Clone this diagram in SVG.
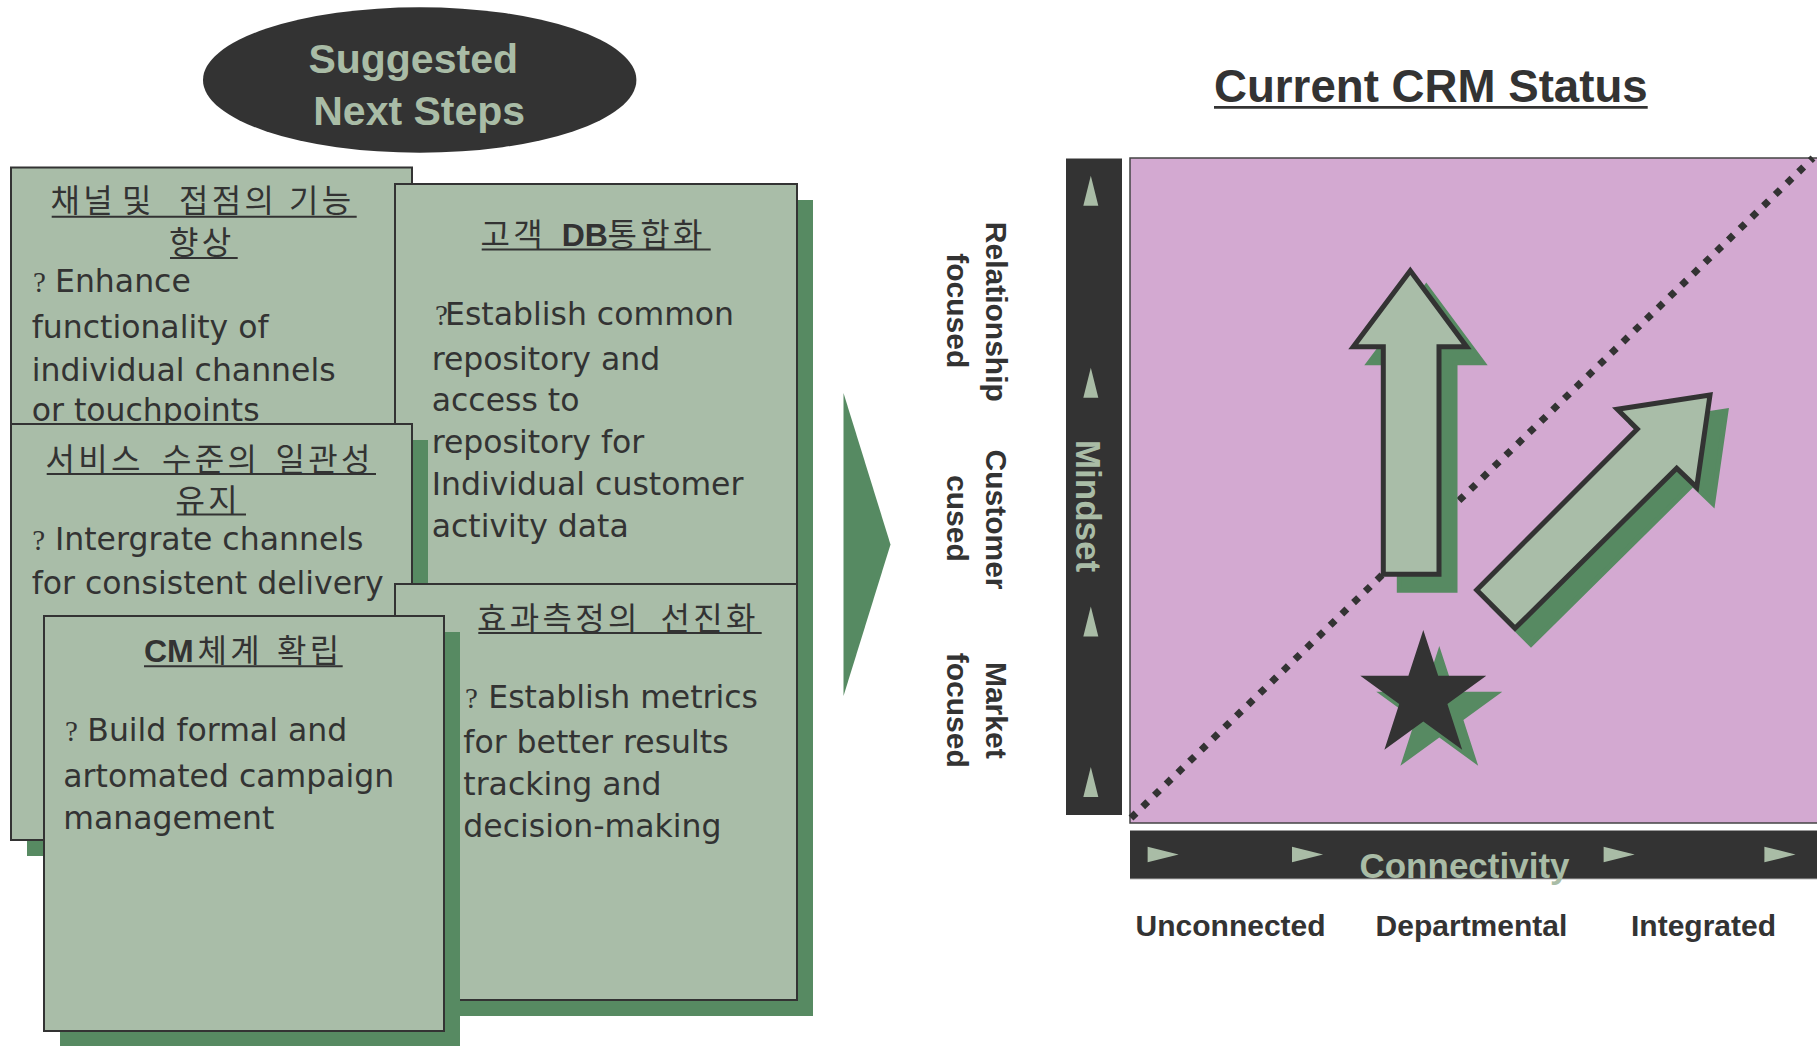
<svg xmlns="http://www.w3.org/2000/svg" width="1817" height="1046" viewBox="0 0 1817 1046">
  <style>
    .box { fill: #a9bda8; stroke: #333333; stroke-width: 2; }
    .shadow { fill: #578a62; }
    .body { font-family: "DejaVu Sans", "Liberation Sans", sans-serif; font-size: 31.5px; fill: #333333; }
    .q { font-family: "Liberation Serif", serif; font-size: 29px; }
    .kr { font-family: "Noto Sans CJK KR", "Liberation Sans", sans-serif; font-size: 32px; letter-spacing: 3.3px; fill: #333333; }
    .lat { font-family: "Liberation Sans", Arial, sans-serif; font-weight: bold; letter-spacing: 0; }
    .ul { stroke: #333333; stroke-width: 2; }
    .lbl { font-family: "Liberation Sans", Arial, sans-serif; font-weight: bold; font-size: 30px; fill: #333333; }
    .axis { font-family: "Liberation Sans", Arial, sans-serif; font-weight: bold; font-size: 35px; fill: #a9bca6; }
    .tri { fill: #a9bca6; }
    .bar { fill: #333333; }
    .arrow { fill: #a9bda8; stroke: #333333; stroke-width: 5; stroke-linejoin: miter; }
    .ashadow { fill: #578a62; stroke: #578a62; stroke-width: 5; }
  </style>

  <rect width="1817" height="1046" fill="#ffffff"/>

  <!-- heading oval -->
  <g id="next-steps-heading">
    <ellipse cx="419.7" cy="80" rx="216.7" ry="72.7" fill="#333333"/>
    <text x="413.2" y="72.7" text-anchor="middle" font-family="Liberation Sans, Arial, sans-serif" font-weight="bold" font-size="41" fill="#a9bca6">Suggested</text>
    <text x="419.2" y="125" text-anchor="middle" font-family="Liberation Sans, Arial, sans-serif" font-weight="bold" font-size="41" fill="#a9bca6">Next Steps</text>
  </g>

  <!-- step cards -->
  <g id="card-channels">
    <rect class="shadow" x="27" y="183.5" width="401" height="418"/>
    <rect class="box" x="11" y="167.5" width="401" height="418"/>
    <text class="kr" x="50.5" y="212"><tspan x="50.5">채널</tspan> <tspan x="122">및</tspan> <tspan x="179">접점의</tspan> <tspan x="289">기능</tspan></text>
    <line class="ul" x1="51.7" y1="216.7" x2="356.7" y2="216.7"/>
    <text class="kr" x="169" y="254">향상</text>
    <line class="ul" x1="170" y1="258" x2="237.7" y2="258"/>
    <text class="body" x="33" y="292"><tspan class="q">?</tspan><tspan x="55">Enhance</tspan></text>
    <text class="body" x="31.7" y="338">functionality of</text>
    <text class="body" x="31.7" y="381">individual channels</text>
    <text class="body" x="31.7" y="421">or touchpoints</text>
  </g>

  <g id="card-customer-db">
    <rect class="shadow" x="411" y="200" width="402" height="420"/>
    <rect class="box" x="395" y="184" width="402" height="420"/>
    <text class="kr" x="480.5" y="246"><tspan x="480.5">고객</tspan> <tspan class="lat" x="561.7">DB</tspan><tspan x="607.5">통합화</tspan></text>
    <line class="ul" x1="481.7" y1="249.5" x2="710.7" y2="249.5"/>
    <text class="body" x="435" y="325"><tspan class="q">?</tspan><tspan x="445">Establish common</tspan></text>
    <text class="body" x="431.7" y="369.5">repository and</text>
    <text class="body" x="431.7" y="411">access to</text>
    <text class="body" x="431.7" y="453">repository for</text>
    <text class="body" x="431.7" y="495">Individual customer</text>
    <text class="body" x="431.7" y="537">activity data</text>
  </g>

  <g id="card-service-level">
    <rect class="shadow" x="27" y="440" width="401" height="416"/>
    <rect class="box" x="11" y="424" width="401" height="416"/>
    <text class="kr" x="45.5" y="470.5"><tspan x="45.5">서비스</tspan> <tspan x="162">수준의</tspan> <tspan x="275.5">일관성</tspan></text>
    <line class="ul" x1="46.7" y1="474" x2="376" y2="474"/>
    <text class="kr" x="175.5" y="511.5">유지</text>
    <line class="ul" x1="176.7" y1="514.6" x2="246" y2="514.6"/>
    <text class="body" x="32.3" y="549.7"><tspan class="q">?</tspan><tspan x="55">Intergrate channels</tspan></text>
    <text class="body" x="31.7" y="593.6">for consistent delivery</text>
  </g>

  <g id="card-metrics">
    <rect class="shadow" x="411" y="600" width="402" height="416"/>
    <rect class="box" x="395" y="584" width="402" height="416"/>
    <text class="kr" x="477" y="630"><tspan x="477">효과측정의</tspan> <tspan x="660.5">선진화</tspan></text>
    <line class="ul" x1="478.3" y1="633" x2="761.7" y2="633"/>
    <text class="body" x="465" y="708.3"><tspan class="q">?</tspan><tspan x="488.3">Establish metrics</tspan></text>
    <text class="body" x="463.3" y="753.3">for better results</text>
    <text class="body" x="463.3" y="795">tracking and</text>
    <text class="body" x="463.3" y="836.7">decision-making</text>
  </g>

  <g id="card-campaign">
    <rect class="shadow" x="60" y="632" width="400" height="415"/>
    <rect class="box" x="44" y="616" width="400" height="415"/>
    <text class="kr" x="144" y="662"><tspan class="lat" x="144">CM</tspan><tspan x="197.5">체계</tspan> <tspan x="277">확립</tspan></text>
    <line class="ul" x1="144" y1="666.3" x2="342.7" y2="666.3"/>
    <text class="body" x="65" y="741.4"><tspan class="q">?</tspan><tspan x="87.3">Build formal and</tspan></text>
    <text class="body" x="63.3" y="786.5">artomated campaign</text>
    <text class="body" x="63.3" y="829">management</text>
  </g>

  <!-- flow arrow from the steps to the status chart -->
  <g id="connectors">
    <polygon points="843.5,393 890.5,544.5 843.5,696" fill="#568a62"/>
  </g>

  <!-- status chart -->
  <g id="crm-status-title">
    <text x="1214" y="101.7" textLength="433.7" lengthAdjust="spacingAndGlyphs" font-family="Liberation Sans, Arial, sans-serif" font-weight="bold" font-size="46" fill="#333333">Current CRM Status</text>
    <line x1="1214" y1="107.3" x2="1647.7" y2="107.3" stroke="#333333" stroke-width="2.7"/>
  </g>

  <g id="mindset-labels">
    <text class="lbl" text-anchor="middle" transform="translate(986,311.8) rotate(90)">Relationship</text>
    <text class="lbl" text-anchor="middle" transform="translate(947,310.8) rotate(90)">focused</text>
    <text class="lbl" text-anchor="middle" transform="translate(986,519.5) rotate(90)">Customer</text>
    <text class="lbl" text-anchor="middle" transform="translate(947,518.4) rotate(90)">cused</text>
    <text class="lbl" text-anchor="middle" transform="translate(986,710.3) rotate(90)">Market</text>
    <text class="lbl" text-anchor="middle" transform="translate(947,710.3) rotate(90)">focused</text>
  </g>

  <g id="mindset-axis">
    <rect class="bar" x="1066" y="158" width="56" height="657"/>
    <line x1="1066" y1="158.5" x2="1122" y2="158.5" stroke="#9a9a9a" stroke-width="1"/>
    <polygon class="tri" points="1090.8,175.7 1098.3,205.7 1083.3,205.7"/>
    <polygon class="tri" points="1090.8,367.7 1098.3,397.7 1083.3,397.7"/>
    <polygon class="tri" points="1090.8,606.5 1098.3,636.5 1083.3,636.5"/>
    <polygon class="tri" points="1090.8,767 1098.3,797 1083.3,797"/>
    <text class="axis" text-anchor="middle" transform="translate(1076,506) rotate(90)">Mindset</text>
  </g>

  <g id="status-grid">
    <rect x="1130" y="158" width="700" height="665" fill="#d3a9d1" stroke="#444444" stroke-width="1.5"/>
    <line x1="1131" y1="818" x2="1813" y2="158" stroke="#333333" stroke-width="7" stroke-dasharray="7 9.3"/>
  </g>

  <g id="move-up-arrow">
    <polygon class="ashadow" transform="translate(16,16)" points="1410.3,270.7 1466.7,346.7 1439,346.7 1439,574.3 1383.3,574.3 1383.3,346.7 1353.3,346.7"/>
    <polygon class="arrow" points="1410.3,270.7 1466.7,346.7 1439,346.7 1439,574.3 1383.3,574.3 1383.3,346.7 1353.3,346.7"/>
  </g>

  <g id="move-diagonal-arrow">
    <polygon class="ashadow" transform="translate(16,16)" points="1710,395 1696.7,487.3 1676.7,468.3 1515,628.3 1476.7,590 1637.3,429 1617.3,409.3"/>
    <polygon class="arrow" points="1710,395 1696.7,487.3 1676.7,468.3 1515,628.3 1476.7,590 1637.3,429 1617.3,409.3"/>
  </g>

  <g id="current-position-star">
    <polygon fill="#578a62" transform="translate(16,16)" points="1423.3,630 1438.2,675.7 1486.3,675.7 1447.4,704 1462.2,749.8 1423.3,721.5 1384.4,749.8 1399.2,704 1360.3,675.7 1408.4,675.7"/>
    <polygon fill="#333333" points="1423.3,630 1438.2,675.7 1486.3,675.7 1447.4,704 1462.2,749.8 1423.3,721.5 1384.4,749.8 1399.2,704 1360.3,675.7 1408.4,675.7"/>
  </g>

  <g id="connectivity-axis">
    <rect class="bar" x="1130" y="830" width="700" height="49"/>
    <line x1="1130" y1="830.5" x2="1817" y2="830.5" stroke="#9a9a9a" stroke-width="1"/>
    <line x1="1130" y1="878.8" x2="1817" y2="878.8" stroke="#8a8a8a" stroke-width="1"/>
    <polygon class="tri" points="1147.6,846.7 1178.7,854.5 1147.6,862.3"/>
    <polygon class="tri" points="1292,846.7 1323.1,854.5 1292,862.3"/>
    <polygon class="tri" points="1603.6,846.7 1634.7,854.5 1603.6,862.3"/>
    <polygon class="tri" points="1764.4,846.7 1795.5,854.5 1764.4,862.3"/>
    <text class="axis" x="1464.5" y="878" text-anchor="middle">Connectivity</text>
  </g>

  <g id="connectivity-labels">
    <text class="lbl" x="1135.6" y="936">Unconnected</text>
    <text class="lbl" x="1375.6" y="936">Departmental</text>
    <text class="lbl" x="1631" y="936">Integrated</text>
  </g>
</svg>
